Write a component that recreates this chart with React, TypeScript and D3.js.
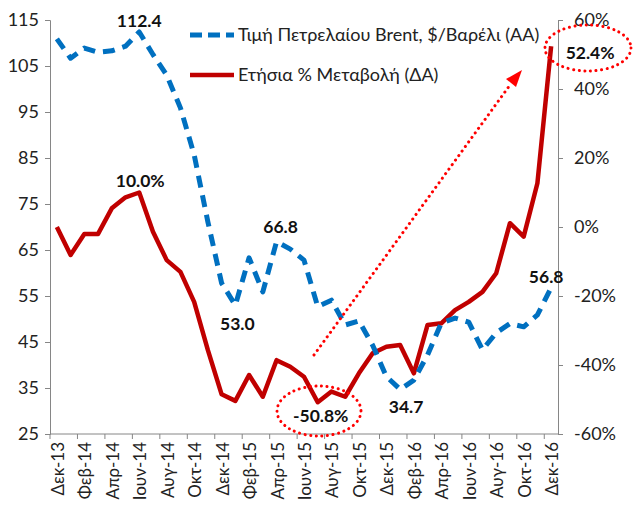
import React, { useEffect, useRef } from "react";
import * as d3 from "d3";

// monthly categories Δεκ-13 .. Δεκ-16
const monthNames = ["Ιαν", "Φεβ", "Μαρ", "Απρ", "Μαϊ", "Ιουν", "Ιουλ", "Αυγ", "Σεπ", "Οκτ", "Νοε", "Δεκ"];
const months: string[] = ["Δεκ-13"];
for (let y = 14; y <= 16; y++) {
  monthNames.forEach((m) => months.push(m + "-" + y));
}

const brentPrice = [
  110.9, 106.7, 108.9, 108.0, 108.3, 109.3, 112.4, 107.5, 103.0, 95.9, 85.7, 71.1,
  57.8, 53.0, 63.3, 55.9, 66.8, 65.2, 62.8, 52.7, 54.1, 48.7, 49.6, 44.3,
  37.5, 34.7, 36.7, 42.2, 49.1, 50.2, 49.3, 43.3, 47.0, 49.0, 48.3, 50.9, 56.8,
];

const yearlyChange = [
  0, -8.1, -2.0, -2.0, 5.4, 8.6, 10.0, -1.4, -9.6, -13.0, -21.7, -35.7,
  -48.5, -50.4, -42.9, -49.2, -38.6, -40.5, -43.4, -50.8, -47.7, -49.2, -42.4, -36.6,
  -34.7, -34.2, -42.4, -28.4, -27.9, -24.1, -21.7, -18.8, -13.4, 1.1, -2.8, 12.7, 52.4,
];

const leftTicks = [25, 35, 45, 55, 65, 75, 85, 95, 105, 115];
const rightTicks = [-60, -40, -20, 0, 20, 40, 60];

const legendLabels = ["Τιμή Πετρελαίου Brent, $/Βαρέλι (ΑΑ)", "Ετήσια % Μεταβολή (ΔΑ)"];

// annotated points: [index, text]
const brentLabels: [number, string][] = [[6, "112.4"], [13, "53.0"], [16, "66.8"], [25, "34.7"], [36, "56.8"]];
const changeLabels: [number, string][] = [[6, "10.0%"], [19, "-50.8%"], [36, "52.4%"]];

const FONT = "Lato, 'Open Sans', sans-serif";
const BLUE = "#0070C0";
const RED = "#C00000";
const AXIS = "#868686";

export default function App() {
  const ref = useRef<SVGSVGElement>(null);

  useEffect(() => {
    const svg = d3.select(ref.current);
    svg.selectAll("*").remove();

    const left = 50, right = 558, top = 20, bottom = 434;

    const x = d3.scaleBand().domain(months).range([left, right]);
    const cx = (i: number) => (x(months[i]) as number) + x.bandwidth() / 2;
    const yL = d3.scaleLinear().domain([25, 115]).range([bottom, top]);
    const yR = d3.scaleLinear().domain([-60, 60]).range([bottom, top]);

    // axes
    const gl = svg.append("g").attr("transform", `translate(${left},0)`)
      .call(d3.axisLeft(yL).tickValues(leftTicks).tickSize(5).tickPadding(6));
    const gr = svg.append("g").attr("transform", `translate(${right},0)`)
      .call(d3.axisRight(yR).tickValues(rightTicks).tickSize(5).tickPadding(11)
        .tickFormat((d) => d + "%"));
    [gl, gr].forEach((g) => {
      g.select(".domain").attr("stroke", AXIS);
      g.selectAll(".tick line").attr("stroke", AXIS);
      g.selectAll("text").attr("font-family", FONT).attr("font-size", 18).attr("fill", "#222");
    });

    svg.append("line").attr("x1", left).attr("x2", right).attr("y1", bottom).attr("y2", bottom)
      .attr("stroke", AXIS);
    for (let i = 0; i <= months.length; i += 2) {
      const tx = i < months.length ? (x(months[i]) as number) : right;
      svg.append("line").attr("x1", tx).attr("x2", tx).attr("y1", bottom).attr("y2", bottom + 5)
        .attr("stroke", AXIS);
    }
    months.forEach((m, i) => {
      if (i % 2) return;
      svg.append("text")
        .attr("transform", `translate(${cx(i) + 7},${bottom + 8}) rotate(-90)`)
        .attr("text-anchor", "end")
        .attr("font-family", FONT).attr("font-size", 17).attr("fill", "#222")
        .text(m);
    });

    // lines
    const lineL = d3.line<number>().x((d, i) => cx(i)).y((d) => yL(d));
    const lineR = d3.line<number>().x((d, i) => cx(i)).y((d) => yR(d));

    svg.append("path").attr("d", lineR(yearlyChange)).attr("fill", "none")
      .attr("stroke", RED).attr("stroke-width", 4.5).attr("stroke-linejoin", "round");
    svg.append("path").attr("d", lineL(brentPrice)).attr("fill", "none")
      .attr("stroke", BLUE).attr("stroke-width", 5).attr("stroke-dasharray", "12,8")
      .attr("stroke-linejoin", "round");

    // legend
    svg.append("line").attr("x1", 190).attr("x2", 234).attr("y1", 35).attr("y2", 35)
      .attr("stroke", BLUE).attr("stroke-width", 5).attr("stroke-dasharray", "12,6");
    svg.append("line").attr("x1", 190).attr("x2", 234).attr("y1", 75).attr("y2", 75)
      .attr("stroke", RED).attr("stroke-width", 4.5);
    legendLabels.forEach((t, i) => {
      svg.append("text").attr("x", 238).attr("y", 41 + i * 40)
        .attr("font-family", FONT).attr("font-size", 18).attr("fill", "#222").text(t);
    });

    // data labels
    const labelOffsets: Record<string, [number, number]> = {
      "112.4": [0, -5], "53.0": [2, 25], "66.8": [4, -9], "34.7": [6, 24], "56.8": [-5, -5],
      "10.0%": [1, -6], "-50.8%": [3, 20], "52.4%": [39, 13],
    };
    const addLabel = (px: number, py: number, t: string) => {
      const o = labelOffsets[t];
      svg.append("text").attr("x", px + o[0]).attr("y", py + o[1]).attr("text-anchor", "middle")
        .attr("font-family", FONT).attr("font-size", 17.5).attr("font-weight", "bold").attr("fill", "#111")
        .text(t);
    };
    brentLabels.forEach(([i, t]) => addLabel(cx(i), yL(brentPrice[i]), t));
    changeLabels.forEach(([i, t]) => addLabel(cx(i), yR(yearlyChange[i]), t));

    // annotations
    const dotted = (sel: any) => sel.attr("fill", "none").attr("stroke", "#FF0000").attr("stroke-width", 3)
      .attr("stroke-dasharray", "0.1,5.5").attr("stroke-linecap", "round");
    dotted(svg.append("ellipse").attr("cx", 588).attr("cy", 48).attr("rx", 43).attr("ry", 23));
    dotted(svg.append("ellipse").attr("cx", 319).attr("cy", 411).attr("rx", 42).attr("ry", 25));
    dotted(svg.append("line").attr("x1", 314).attr("y1", 355).attr("x2", 510).attr("y2", 85));
    svg.append("path").attr("d", "M522,70 L506,79 L516,87 Z").attr("fill", "#FF0000");
  }, []);

  return (
    <svg ref={ref} width={633} height={506}
      style={{ position: "absolute", left: 0, top: 0, background: "#fff" }} />
  );
}
